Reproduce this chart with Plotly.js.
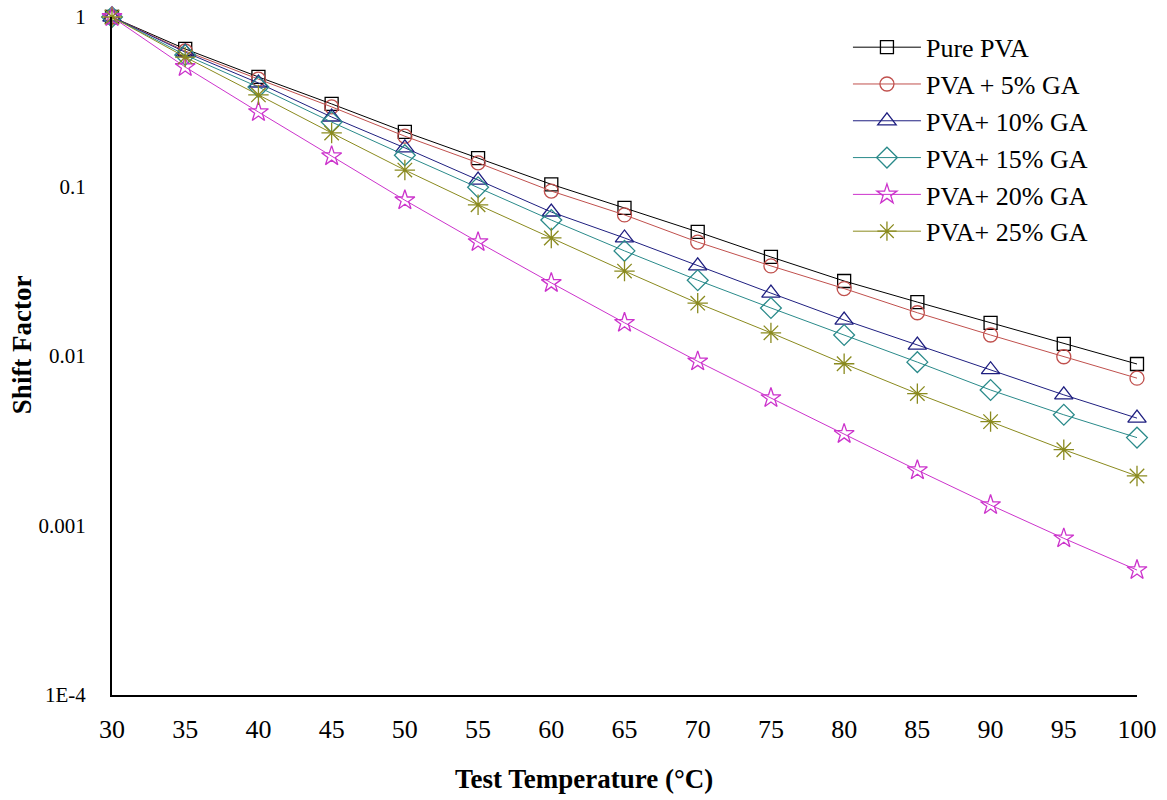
<!DOCTYPE html>
<html>
<head>
<meta charset="utf-8">
<script src="https://cdn.plot.ly/plotly-3.0.1.min.js"></script>
<style>html,body{margin:0;padding:0;background:#fff;}#chart{width:1167px;height:800px;}</style>
</head>
<body>
<div id="chart"></div>
<script>
const temperature = [30, 35, 40, 45, 50, 55, 60, 65, 70, 75, 80, 85, 90, 95, 100];
const purePVA  = [1, 0.648, 0.443, 0.307, 0.21, 0.147, 0.103, 0.0747, 0.054, 0.0384, 0.0277, 0.0208, 0.0157, 0.0118, 0.00897];
const pva5GA   = [1, 0.63, 0.43, 0.295, 0.198, 0.138, 0.094, 0.068, 0.047, 0.034, 0.025, 0.018, 0.0133, 0.0099, 0.0074];
const pva10GA  = [1, 0.62, 0.408, 0.257, 0.169, 0.109, 0.0707, 0.0497, 0.034, 0.0235, 0.0163, 0.0116, 0.0083, 0.0059, 0.0043];
const pva15GA  = [1, 0.597, 0.386, 0.24, 0.153, 0.099, 0.0634, 0.0417, 0.028, 0.0192, 0.0133, 0.0092, 0.0063, 0.0045, 0.0033];
const pva20GA  = [1, 0.507, 0.275, 0.151, 0.083, 0.047, 0.027, 0.0157, 0.0093, 0.00565, 0.00347, 0.00212, 0.00132, 0.00084, 0.000546];
const pva25GA  = [1, 0.58, 0.347, 0.207, 0.125, 0.078, 0.0497, 0.0317, 0.0205, 0.0137, 0.009, 0.006, 0.0041, 0.0028, 0.00196];
const seriesNames = ["Pure PVA", "PVA + 5% GA", "PVA+ 10% GA", "PVA+ 15% GA", "PVA+ 20% GA", "PVA+ 25% GA"];
const yTickVals = [1, 0.1, 0.01, 0.001, 0.0001];
const yTickText = ["1", "0.1", "0.01", "0.001", "1E-4"];
const xTickVals = [30, 35, 40, 45, 50, 55, 60, 65, 70, 75, 80, 85, 90, 95, 100];
const xTitle = "Test Temperature (°C)";
const yTitle = "Shift Factor";

const seriesData = [purePVA, pva5GA, pva10GA, pva15GA, pva20GA, pva25GA];
const colors = ["#000000", "#c0504d", "#1f1f80", "#2a8a8a", "#cc33cc", "#8a8a1e"];
const symbols = ["square-open", "circle-open", "triangle-up-open", "diamond-open", "star-open", "asterisk-open"];
const sizes = [13, 14, 16, 16, 15, 17];

const traces = seriesData.map((ys, i) => ({
  x: temperature, y: ys, name: seriesNames[i], type: 'scatter', mode: 'lines+markers',
  cliponaxis: false,
  line: {color: colors[i], width: 1},
  marker: {symbol: symbols[i], size: sizes[i], color: colors[i], line: {color: colors[i], width: 1.3}}
}));

const font = {family: '"Liberation Serif", "Times New Roman", serif', color: '#000'};
const layout = {
  width: 1167, height: 800,
  margin: {l: 112, r: 30, t: 17, b: 105},
  paper_bgcolor: '#fff', plot_bgcolor: '#fff',
  font: Object.assign({size: 20}, font),
  showlegend: true,
  legend: {x: 0.718, y: 0.99, xanchor: 'left', yanchor: 'top', bgcolor: 'rgba(0,0,0,0)',
           font: Object.assign({size: 26}, font), itemwidth: 68, tracegroupgap: 0},
  xaxis: {range: [30, 100], tickvals: xTickVals, showgrid: false, zeroline: false,
          showline: true, linecolor: '#000', linewidth: 2, ticks: '', ticklabelstandoff: 10,
          tickfont: Object.assign({size: 26}, font)},
  yaxis: {type: 'log', range: [-4, 0], tickvals: yTickVals, ticktext: yTickText, showgrid: false, zeroline: false,
          showline: true, linecolor: '#000', linewidth: 2, ticks: '', ticklabelstandoff: 20,
          tickfont: Object.assign({size: 21}, font)},
  annotations: [
    {text: '<b>' + xTitle + '</b>', xref: 'paper', yref: 'paper', x: 0.46, y: -0.124,
     xanchor: 'center', yanchor: 'middle', showarrow: false, font: Object.assign({size: 27}, font)},
    {text: '<b>' + yTitle + '</b>', xref: 'paper', yref: 'paper', x: -0.0878, y: 0.516,
     xanchor: 'center', yanchor: 'middle', textangle: -90, showarrow: false, font: Object.assign({size: 27}, font)}
  ]
};
Plotly.newPlot('chart', traces, layout, {displayModeBar: false, staticPlot: true});
</script>
</body>
</html>
